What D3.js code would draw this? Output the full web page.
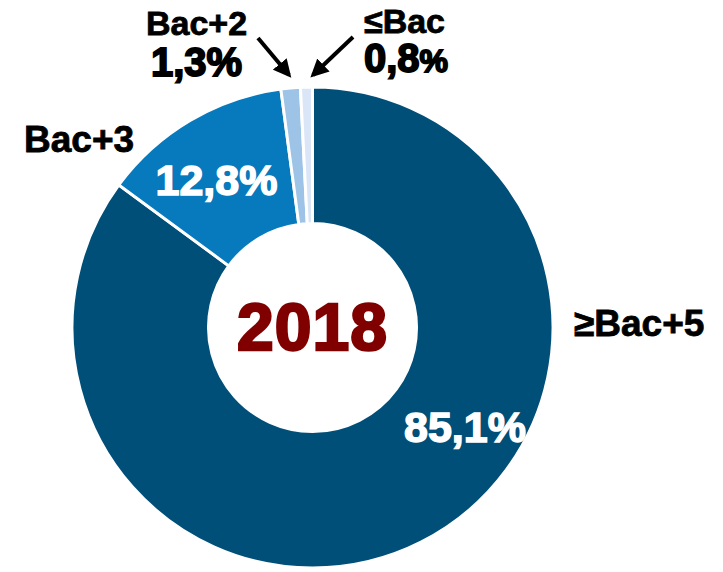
<!DOCTYPE html>
<html>
<head>
<meta charset="utf-8">
<script src="https://d3js.org/d3.v7.min.js"></script>
<style>
  body { margin: 0; background: #fff; }
  text { font-family: "Liberation Sans", Arial, sans-serif; font-weight: bold; }
</style>
</head>
<body>
<script>
// data
const categories = ["≥Bac+5", "Bac+3", "Bac+2", "≤Bac"];
const shares = [85.1, 12.8, 1.3, 0.8];
const shareLabels = ["85,1", "12,8", "1,3", "0,8"];
const year = "2018";

const colors = ["#004f79", "#0779bd", "#9dc3e6", "#dae6f7"];

const width = 723, height = 572;
const cx = 312.5, cy = 327.5;
const outerR = 240.5, innerR = 104;

const svg = d3.select("body").append("svg")
  .attr("width", width)
  .attr("height", height);

const defs = svg.append("defs");
defs.append("marker")
  .attr("id", "arrow")
  .attr("viewBox", "0 0 10 10")
  .attr("refX", 8)
  .attr("refY", 5)
  .attr("markerWidth", 4.5)
  .attr("markerHeight", 4.5)
  .attr("orient", "auto")
  .append("path")
  .attr("d", "M0,0 L10,5 L0,10 Z")
  .attr("fill", "#000");

const pie = d3.pie().sort(null).value(d => d);
const arc = d3.arc().innerRadius(innerR).outerRadius(outerR);

const g = svg.append("g").attr("transform", "translate(" + cx + "," + cy + ")");

g.selectAll("path.slice")
  .data(pie(shares))
  .enter().append("path")
  .attr("class", "slice")
  .attr("d", arc)
  .attr("fill", (d, i) => colors[i])
  .attr("stroke", "#fff")
  .attr("stroke-width", 3);

// year in the middle
g.append("text")
  .text(year)
  .attr("x", 0)
  .attr("y", 22)
  .attr("text-anchor", "middle")
  .attr("font-size", 66)
  .attr("letter-spacing", 1)
  .attr("fill", "#800000")
  .attr("stroke", "#800000")
  .attr("stroke-width", 2.5);

// percentage labels inside the ring
const inside = [
  {i: 0, x: 465, y: 442, size: 43},
  {i: 1, x: 216.5, y: 195, size: 43}
];
inside.forEach(function(p) {
  svg.append("text")
    .text(shareLabels[p.i] + "%")
    .attr("x", p.x)
    .attr("y", p.y)
    .attr("text-anchor", "middle")
    .attr("font-size", p.size)
    .attr("fill", "#fff")
    .attr("stroke", "#fff")
    .attr("stroke-width", 1.5);
});

// category labels
const catPos = [
  {i: 0, x: 574, y: 336, size: 37},
  {i: 1, x: 24, y: 152, size: 37},
  {i: 2, x: 146, y: 35, size: 34},
  {i: 3, x: 364, y: 33, size: 34}
];
catPos.forEach(function(p) {
  svg.append("text")
    .text(categories[p.i])
    .attr("x", p.x)
    .attr("y", p.y)
    .attr("font-size", p.size)
    .attr("fill", "#000")
    .attr("stroke", "#000")
    .attr("stroke-width", 0.8);
});

// small slices: outside percentage + arrow
const small = [
  {i: 2, x: 151, y: 76, size: 40, pct: 40, from: [258, 38], to: [289, 75]},
  {i: 3, x: 364, y: 72, size: 40, pct: 32, from: [353, 37], to: [313, 75]}
];
small.forEach(function(p) {
  const t = svg.append("text")
    .attr("x", p.x)
    .attr("y", p.y)
    .attr("font-size", p.size)
    .attr("fill", "#000")
    .attr("stroke", "#000")
    .attr("stroke-width", 1.8);
  t.append("tspan").text(shareLabels[p.i]);
  t.append("tspan").attr("font-size", p.pct).text("%");
  svg.append("line")
    .attr("x1", p.from[0]).attr("y1", p.from[1])
    .attr("x2", p.to[0]).attr("y2", p.to[1])
    .attr("stroke", "#000")
    .attr("stroke-width", 4)
    .attr("marker-end", "url(#arrow)");
});
</script>
</body>
</html>
